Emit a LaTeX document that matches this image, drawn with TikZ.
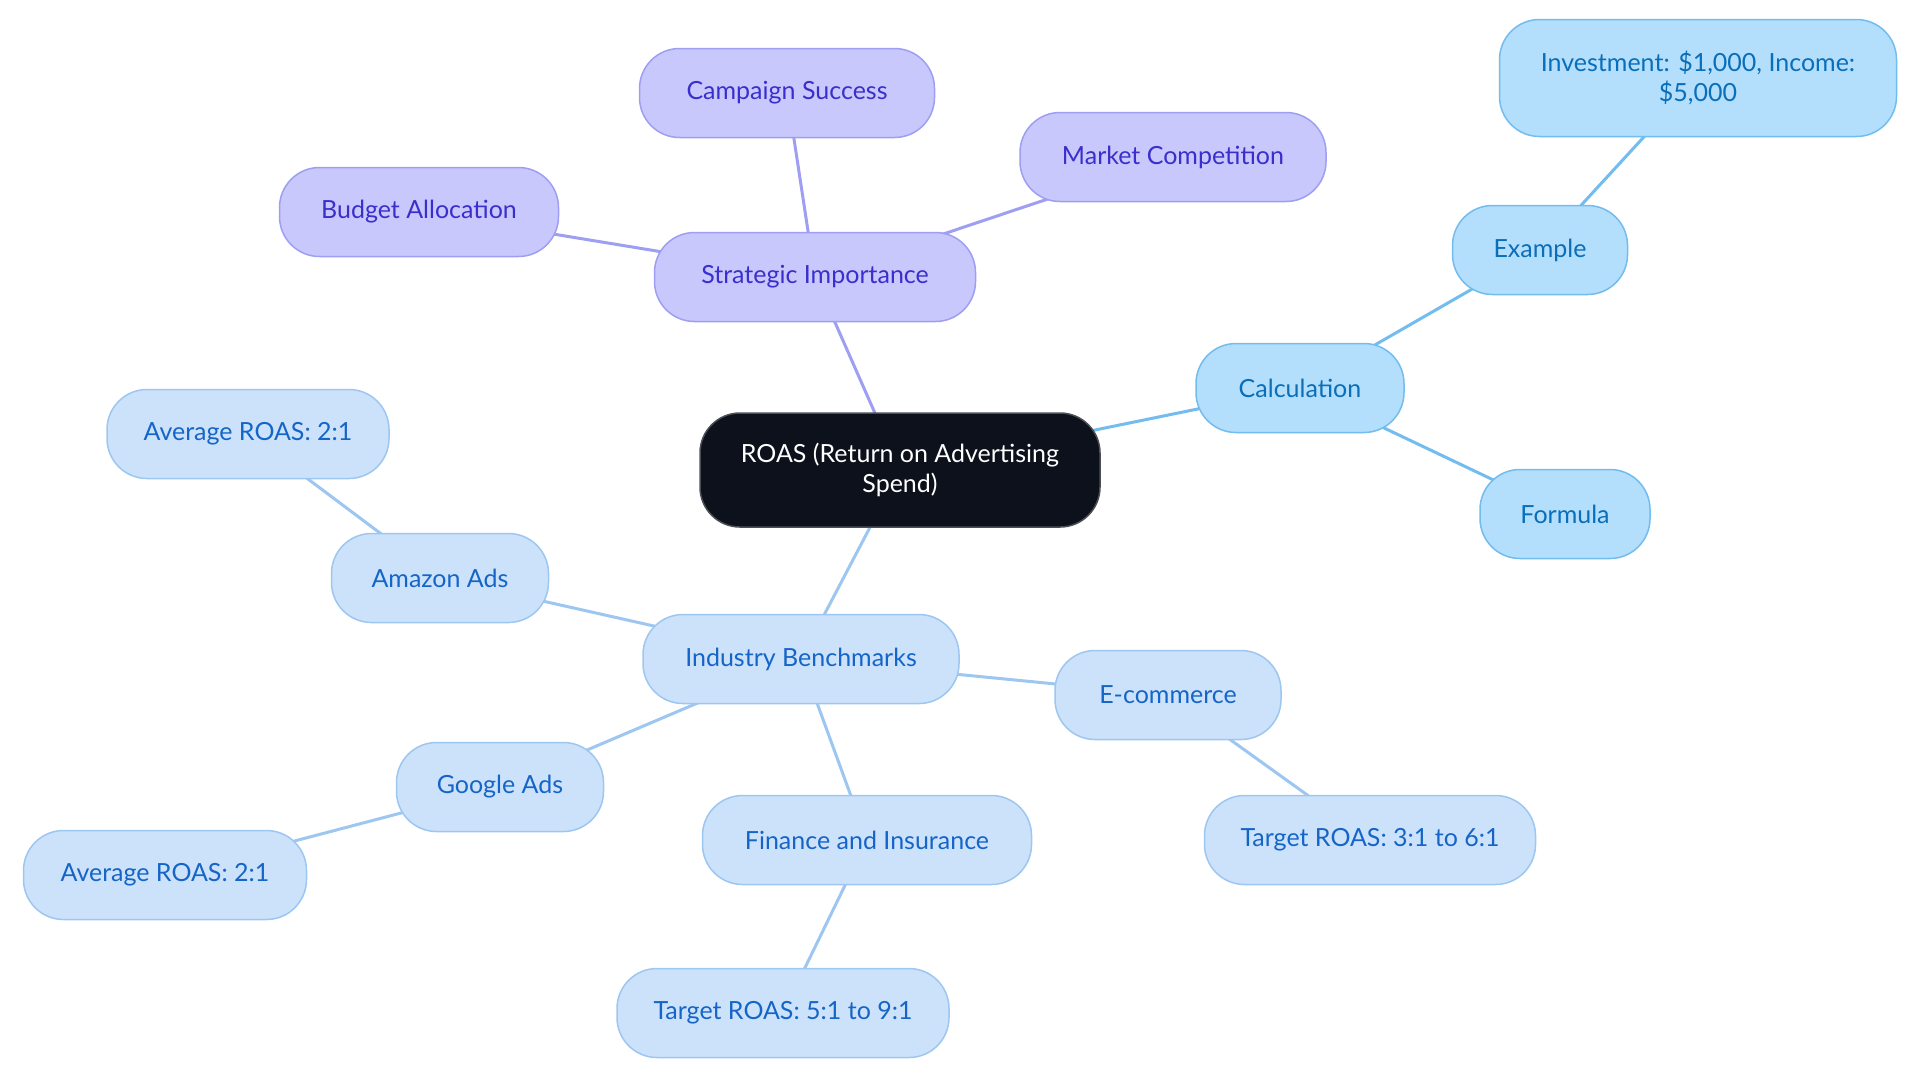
\documentclass[tikz,border=0pt]{standalone}
\usepackage{fontspec}
\setmainfont{Lato}
\usetikzlibrary{backgrounds}

\definecolor{rootfill}{HTML}{0C111B}
\definecolor{rootline}{HTML}{4A4E55}
\definecolor{stratfill}{HTML}{C8C8FC}
\definecolor{stratline}{HTML}{9E9EF2}
\definecolor{strattext}{HTML}{3A2FCC}
\definecolor{calcfill}{HTML}{B3DFFD}
\definecolor{calcline}{HTML}{72BCEE}
\definecolor{calctext}{HTML}{0A6EB8}
\definecolor{indfill}{HTML}{CCE2FA}
\definecolor{indline}{HTML}{9DC6F0}
\definecolor{indtext}{HTML}{1565C8}

\begin{document}
\begin{tikzpicture}[x=0.5pt, y=-0.5pt]
    \tikzstyle{topic}=[rectangle, rounded corners=20pt, line width=0.75pt, align=center, font=\fontsize{12.5}{15}\selectfont, inner xsep=16pt, minimum height=44.5pt]
    \tikzstyle{root}=[topic, fill=rootfill, draw=rootline, text=white, minimum height=57pt]
    \tikzstyle{strat}=[topic, fill=stratfill, draw=stratline, text=strattext]
    \tikzstyle{calc}=[topic, fill=calcfill, draw=calcline, text=calctext]
    \tikzstyle{ind}=[topic, fill=indfill, draw=indline, text=indtext]
    \tikzstyle{stratlink}=[draw=stratline, line width=1.5pt]
    \tikzstyle{calclink}=[draw=calcline, line width=1.5pt]
    \tikzstyle{indlink}=[draw=indline, line width=1.5pt]
    \useasboundingbox (0,0) rectangle (1920,1083);

    \node[root, minimum width=200pt] (roas) at (900,470) {ROAS (Return on Advertising\\Spend)};

    \node[strat, minimum width=160.5pt] (strategic) at (815,277) {Strategic Importance};
    \node[strat, minimum width=147.5pt] (campaign) at (787,93) {Campaign Success};
    \node[strat, minimum width=153pt] (market) at (1173,157) {Market Competition};
    \node[strat, minimum width=139.5pt] (budget) at (419,212) {Budget Allocation};

    \node[calc, minimum width=104pt] (calculation) at (1300,388) {Calculation};
    \node[calc, minimum width=87.5pt] (example) at (1540,250) {Example};
    \node[calc, minimum width=198.5pt, minimum height=58.5pt] (investment) at (1698,78) {Investment: \$1,000, Income:\\\$5,000};
    \node[calc, minimum width=85pt] (formula) at (1565,514) {Formula};

    \node[ind, minimum width=158pt] (industry) at (801,659) {Industry Benchmarks};
    \node[ind, minimum width=108.5pt] (amazon) at (440,578) {Amazon Ads};
    \node[ind, minimum width=141pt] (amazonavg) at (248,434) {Average ROAS: 2:1};
    \node[ind, minimum width=103.5pt] (google) at (500,787) {Google Ads};
    \node[ind, minimum width=141.5pt] (googleavg) at (165,875) {Average ROAS: 2:1};
    \node[ind, minimum width=164.5pt] (finance) at (867,840) {Finance and Insurance};
    \node[ind, minimum width=166pt] (financetarget) at (783,1013) {Target ROAS: 5:1 to 9:1};
    \node[ind, minimum width=113pt] (ecommerce) at (1168,695) {E-commerce};
    \node[ind, minimum width=165.5pt] (ecommercetarget) at (1370,840) {Target ROAS: 3:1 to 6:1};

    \begin{scope}[on background layer]
      \draw[stratlink] (roas.center) -- (strategic.center);
      \draw[stratlink] (strategic.center) -- (campaign.center);
      \draw[stratlink] (strategic.center) -- (market.center);
      \draw[stratlink] (strategic.center) -- (budget.center);
      \draw[calclink] (roas.center) -- (calculation.center);
      \draw[calclink] (calculation.center) -- (example.center);
      \draw[calclink] (example.center) -- (investment.center);
      \draw[calclink] (calculation.center) -- (formula.center);
      \draw[indlink] (roas.center) -- (industry.center);
      \draw[indlink] (industry.center) -- (amazon.center);
      \draw[indlink] (amazon.center) -- (amazonavg.center);
      \draw[indlink] (industry.center) -- (google.center);
      \draw[indlink] (google.center) -- (googleavg.center);
      \draw[indlink] (industry.center) -- (finance.center);
      \draw[indlink] (finance.center) -- (financetarget.center);
      \draw[indlink] (industry.center) -- (ecommerce.center);
      \draw[indlink] (ecommerce.center) -- (ecommercetarget.center);
    \end{scope}
\end{tikzpicture}
\end{document}
